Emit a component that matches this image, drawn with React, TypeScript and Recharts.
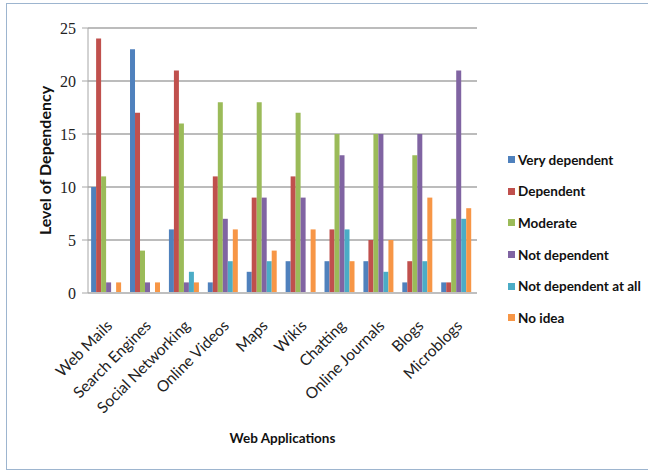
import React from 'react';
import { BarChart, Bar, XAxis, YAxis, CartesianGrid, Label } from 'recharts';

const apps = ['Web Mails', 'Search Engines', 'Social Networking', 'Online Videos', 'Maps', 'Wikis', 'Chatting', 'Online Journals', 'Blogs', 'Microblogs'];
const veryDependent = [10, 23, 6, 1, 2, 3, 3, 3, 1, 1];
const dependent = [24, 17, 21, 11, 9, 11, 6, 5, 3, 1];
const moderate = [11, 4, 16, 18, 18, 17, 15, 15, 13, 7];
const notDependent = [1, 1, 1, 7, 9, 9, 13, 15, 15, 21];
const notAtAll = [0, 0, 2, 3, 3, 0, 6, 2, 3, 7];
const noIdea = [1, 1, 1, 6, 4, 6, 3, 5, 9, 8];
const yTicks = [0, 5, 10, 15, 20, 25];

const SERIES = [
  { key: 'vd', name: 'Very dependent', color: '#4F81BD', values: veryDependent },
  { key: 'd', name: 'Dependent', color: '#C0504D', values: dependent },
  { key: 'm', name: 'Moderate', color: '#9BBB59', values: moderate },
  { key: 'nd', name: 'Not dependent', color: '#8064A2', values: notDependent },
  { key: 'nda', name: 'Not dependent at all', color: '#4BACC6', values: notAtAll },
  { key: 'ni', name: 'No idea', color: '#F79646', values: noIdea },
];

const data = apps.map((app, i) => {
  const row: Record<string, string | number> = { app };
  SERIES.forEach((s) => { row[s.key] = s.values[i]; });
  return row;
});

const FONT = 'Lato, "Open Sans", sans-serif';

// rotated category labels, right end sits just under the group
const AppTick = (props: any) => {
  const { x, y, payload } = props;
  return (
    <g transform={`translate(${x + 3},${y + 23})`}>
      <text transform="rotate(-45)" textAnchor="end" dominantBaseline="middle" fill="#222" fontSize={15.5} fontFamily={FONT}>
        {payload.value}
      </text>
    </g>
  );
};

const LegendBox = () => (
  <div style={{ position: 'absolute', left: 508, top: 144, fontFamily: FONT, fontWeight: 'bold', fontSize: 13.5, color: '#111' }}>
    {SERIES.map((s) => (
      <div key={s.key} style={{ display: 'flex', alignItems: 'center', height: 31.6, whiteSpace: 'nowrap' }}>
        <span style={{ width: 7, height: 7, background: s.color, marginRight: 3, display: 'inline-block' }} />
        {s.name}
      </div>
    ))}
  </div>
);

export default function App() {
  return (
    <div style={{ position: 'absolute', left: 0, top: 0, width: 648, height: 473, background: '#fff' }}>
      <div style={{ position: 'absolute', left: 6, top: 3, width: 660, height: 467, border: '1px solid #9DB5CF', boxSizing: 'border-box' }} />
      <BarChart
        width={648}
        height={473}
        data={data}
        margin={{ top: 28, right: 171, left: 48, bottom: 20 }}
        barCategoryGap="8%"
        barGap={0}
      >
        <CartesianGrid vertical={false} stroke="#A6A6A6" strokeWidth={1.5} />
        <XAxis
          dataKey="app"
          interval={0}
          tick={<AppTick />}
          tickLine={false}
          axisLine={{ stroke: '#BFBFBF', strokeWidth: 2 }}
          height={160}
        >
          <Label value="Web Applications" position="insideBottom" offset={10} style={{ fontFamily: FONT, fontWeight: 'bold', fontSize: 13.5, fill: '#111' }} />
        </XAxis>
        <YAxis
          domain={[0, 25]}
          ticks={yTicks}
          width={40}
          tick={{ fontFamily: '"Liberation Serif", serif', fontSize: 16, fill: '#222', dx: -4 }}
          tickLine={{ stroke: '#A6A6A6' }}
          axisLine={{ stroke: '#A6A6A6' }}
        >
          <Label value="Level of Dependency" angle={-90} position="insideLeft" offset={-3} style={{ fontFamily: FONT, fontWeight: 'bold', fontSize: 16, fill: '#111', textAnchor: 'middle' }} />
        </YAxis>
        {SERIES.map((s) => (
          <Bar key={s.key} dataKey={s.key} name={s.name} fill={s.color} isAnimationActive={false} />
        ))}
      </BarChart>
      <LegendBox />
    </div>
  );
}
